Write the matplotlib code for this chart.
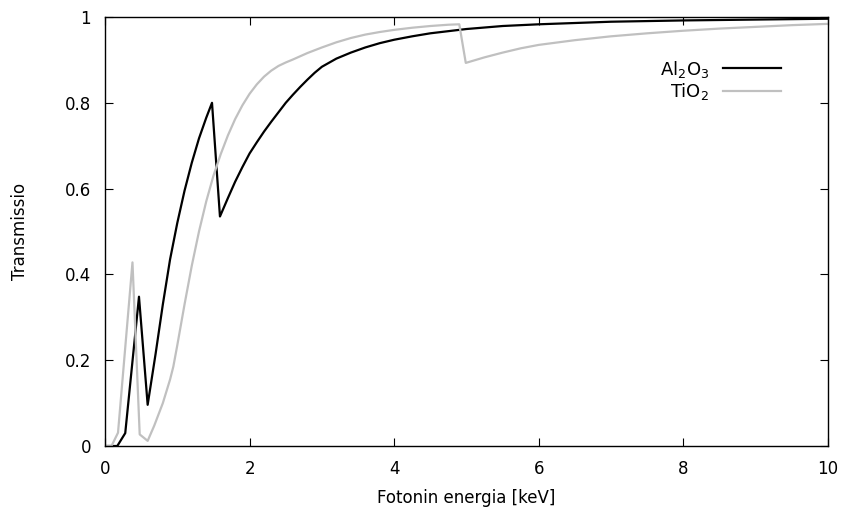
import matplotlib
matplotlib.use("Agg")
import matplotlib.pyplot as plt

# Data
al2o3_energy = [0.0, 0.17, 0.28, 0.47, 0.59, 0.7, 0.8, 0.9, 1.0, 1.1, 1.2, 1.3, 1.4, 1.48,
                1.59, 1.7, 1.8, 1.9, 2.0, 2.1, 2.2, 2.3, 2.4, 2.5, 2.6, 2.7, 2.8, 2.9, 3.0,
                3.2, 3.4, 3.6, 3.8, 4.0, 4.25, 4.5, 4.75, 5.0, 5.5, 6.0, 6.5, 7.0, 8.0, 9.0, 10.0]
al2o3_trans = [0.0, 0.0, 0.03, 0.348, 0.096, 0.215, 0.33, 0.435, 0.52, 0.595, 0.66, 0.717, 0.765, 0.80,
               0.535, 0.578, 0.616, 0.650, 0.682, 0.708, 0.733, 0.756, 0.778, 0.800, 0.819, 0.837, 0.854, 0.870, 0.884,
               0.903, 0.917, 0.929, 0.939, 0.947, 0.955, 0.962, 0.967, 0.972, 0.979, 0.983, 0.986, 0.989, 0.992, 0.994, 0.996]

tio2_energy = [0.0, 0.09, 0.18, 0.38, 0.48, 0.59, 0.68, 0.8, 0.9, 0.945, 1.0, 1.1, 1.2, 1.3, 1.4, 1.5, 1.6, 1.7,
               1.8, 1.9, 2.0, 2.1, 2.2, 2.3, 2.4, 2.5, 2.6, 2.8, 3.0, 3.2, 3.4, 3.6, 3.8, 4.0, 4.25, 4.5, 4.75, 4.9,
               4.99, 5.25, 5.5, 5.75, 6.0, 6.5, 7.0, 7.5, 8.0, 8.5, 9.0, 9.5, 10.0]
tio2_trans = [0.0, 0.0, 0.031, 0.428, 0.027, 0.012, 0.047, 0.1, 0.155, 0.185, 0.235, 0.33, 0.42, 0.50, 0.57, 0.63, 0.68, 0.724,
              0.762, 0.794, 0.821, 0.843, 0.861, 0.875, 0.886, 0.894, 0.901, 0.916, 0.929, 0.941, 0.951, 0.959, 0.965, 0.970, 0.975, 0.979, 0.982, 0.983,
              0.893, 0.906, 0.917, 0.927, 0.935, 0.946, 0.955, 0.962, 0.968, 0.973, 0.977, 0.981, 0.984]

x_ticks = [0, 2, 4, 6, 8, 10]
y_ticks = [0, 0.2, 0.4, 0.6, 0.8, 1]
y_tick_labels = ["0", "0.2", "0.4", "0.6", "0.8", "1"]

plt.rcParams['font.family'] = ['DejaVu Sans']
plt.rcParams['mathtext.default'] = 'regular'

fig = plt.figure(figsize=(8.46, 5.12), dpi=100)
ax = fig.add_axes([105/846, 1 - 446/512, (828-105)/846, (446-17)/512])

ax.plot(al2o3_energy, al2o3_trans, color='black', lw=1.6, label='Al$_2$O$_3$')
ax.plot(tio2_energy, tio2_trans, color='#c0c0c0', lw=1.6, label='TiO$_2$')

ax.set_xlim(0, 10)
ax.set_ylim(0, 1)
ax.set_xticks(x_ticks)
ax.set_xticklabels([str(t) for t in x_ticks])
ax.set_yticks(y_ticks)
ax.set_yticklabels(y_tick_labels)
ax.tick_params(direction='in', length=6, width=0.8, top=True, right=True, labelsize=12, pad=10)
for s in ax.spines.values():
    s.set_linewidth(1.0)

ax.set_xlabel('Fotonin energia [keV]', fontsize=12, labelpad=8)
ax.set_ylabel('Transmissio', fontsize=12, labelpad=26)

ax.legend(loc='upper right', bbox_to_anchor=(0.952, 0.932), frameon=False, markerfirst=False,
          fontsize=13, handlelength=3.2, labelspacing=0.07, handletextpad=0.75, borderpad=0.2)

fig.savefig('out.png', dpi=100)
